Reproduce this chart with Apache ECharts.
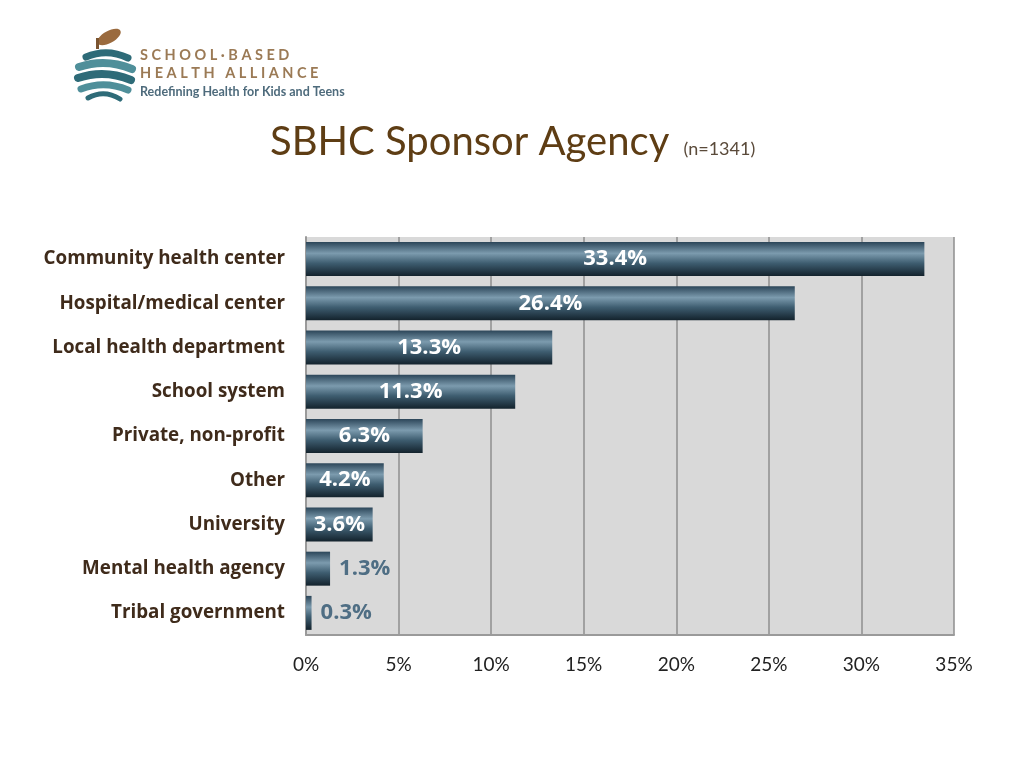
<!DOCTYPE html>
<html>
<head>
<meta charset="utf-8">
<script src="https://cdn.jsdelivr.net/npm/echarts@6/dist/echarts.min.js"></script>
<style>
  html, body { margin: 0; padding: 0; background: #ffffff; }
  #chart { width: 1024px; height: 768px; }
</style>
</head>
<body>
<div id="chart"></div>
<script>
const categories = [
  'Community health center',
  'Hospital/medical center',
  'Local health department',
  'School system',
  'Private, non-profit',
  'Other',
  'University',
  'Mental health agency',
  'Tribal government'
];
const values = [33.4, 26.4, 13.3, 11.3, 6.3, 4.2, 3.6, 1.3, 0.3];
const xTicks = [0, 5, 10, 15, 20, 25, 30, 35];
const titleText = 'SBHC Sponsor Agency';
const subText = '(n=1341)';
const outsideThreshold = 2;

const barGradient = new echarts.graphic.LinearGradient(0, 0, 0, 1, [
  { offset: 0, color: '#2c4659' },
  { offset: 0.33, color: '#7c9bae' },
  { offset: 0.62, color: '#3e5d70' },
  { offset: 1, color: '#13222c' }
]);

const seriesData = values.map(v => {
  const item = { value: v };
  if (v < outsideThreshold) {
    item.label = { position: 'right', color: '#4f6e84', distance: 9 };
  }
  return item;
});

const chart = echarts.init(document.getElementById('chart'));

// logo bands (decorative)
const bands = [];
const bandDefs = [
  [86, 54, 128, 55, 7], [79, 64, 132, 66, 8], [78, 75, 131, 77, 8], [81, 86, 128, 87, 7], [88, 95, 120, 96, 5]
];
bandDefs.forEach((b, i) => {
  bands.push({
    type: 'bezierCurve',
    shape: { x1: b[0], y1: b[1] + 3, x2: b[2], y2: b[3] + 3, cpx1: (b[0] + b[2]) / 2, cpy1: b[1] - 6 },
    style: { stroke: i % 2 === 0 ? '#2e6b78' : '#4f8f9a', lineWidth: b[4], fill: null, lineCap: 'round' }
  });
});

chart.setOption({
  animation: false,
  backgroundColor: '#ffffff',
  title: {
    text: titleText + ' {s|' + subText + '}',
    left: 265,
    top: 117,
    textStyle: {
      fontFamily: 'Lato',
      fontSize: 40,
      fontWeight: 'normal',
      color: '#5e3d14',
      rich: {
        s: { fontFamily: 'Lato', fontSize: 18, color: '#5a4a3a', padding: [14, 0, 0, 4] }
      }
    }
  },
  graphic: [
    {
      type: 'ellipse',
      shape: { cx: 109, cy: 37, rx: 13, ry: 6 },
      rotation: 0.5,
      originX: 109, originY: 37,
      style: { fill: '#9a6a3e' }
    },
    {
      type: 'rect',
      shape: { x: 96, y: 38, width: 3, height: 11 },
      style: { fill: '#7a5430' }
    },
    ...bands,
    {
      type: 'text',
      left: 140, top: 48,
      style: { text: 'S C H O O L · B A S E D', fontFamily: 'Lato', fontWeight: 'bold', fontSize: 14.5, fill: '#9b7a55' }
    },
    {
      type: 'text',
      left: 140, top: 66,
      style: { text: 'H E A L T H   A L L I A N C E', fontFamily: 'Lato', fontWeight: 'bold', fontSize: 14.5, fill: '#9b7a55' }
    },
    {
      type: 'text',
      left: 140, top: 85,
      style: { text: 'Redefining Health for Kids and Teens', fontFamily: 'Lato', fontWeight: 'bold', fontSize: 12.5, fill: '#4e6b7c' }
    }
  ],
  grid: {
    left: 306,
    right: 70,
    top: 237,
    bottom: 133,
    show: true,
    backgroundColor: '#d9d9d9',
    borderWidth: 0
  },
  xAxis: {
    type: 'value',
    min: 0,
    max: 35,
    interval: 5,
    axisLine: { show: true, lineStyle: { color: '#9a9a9a', width: 2 } },
    axisTick: { show: false },
    splitLine: { show: true, lineStyle: { color: '#8e8e8e', width: 1.5 } },
    axisLabel: {
      margin: 20,
      fontFamily: 'Lato',
      fontSize: 19,
      color: '#222222',
      formatter: v => (xTicks.indexOf(v) >= 0 ? v + '%' : '')
    }
  },
  yAxis: {
    type: 'category',
    data: categories,
    inverse: true,
    axisLine: { show: true, lineStyle: { color: '#9a9a9a', width: 2 } },
    axisTick: { show: false },
    axisLabel: {
      margin: 21,
      fontFamily: 'Open Sans',
      fontWeight: 'bold',
      fontSize: 18.8,
      color: '#3f2b1b'
    }
  },
  series: [{
    type: 'bar',
    data: seriesData,
    barWidth: 34,
    itemStyle: { color: barGradient },
    label: {
      show: true,
      position: 'inside',
      formatter: p => p.value.toFixed(1) + '%',
      fontFamily: 'Open Sans',
      fontWeight: 'bold',
      fontSize: 22,
      color: '#ffffff'
    }
  }]
});
</script>
</body>
</html>
